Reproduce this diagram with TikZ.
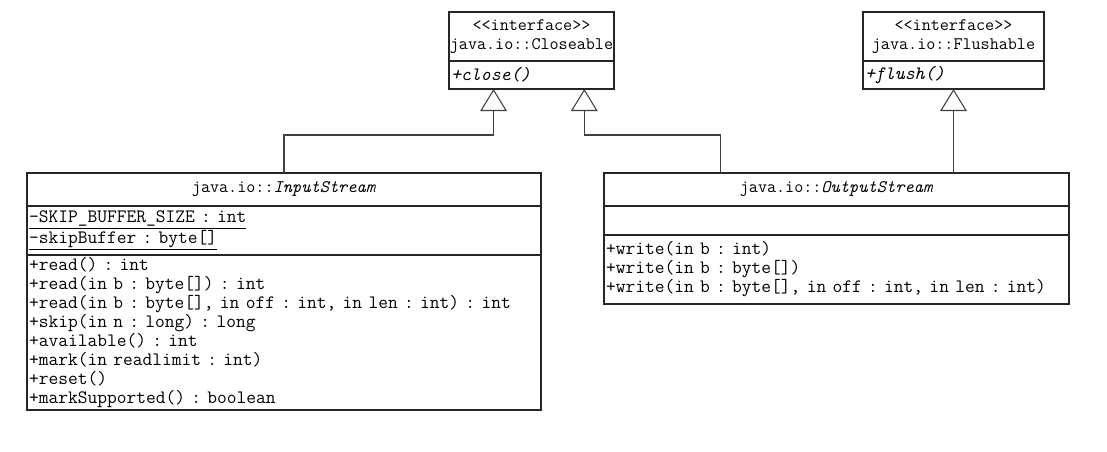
\documentclass[tikz,border=0pt]{standalone}
\usepackage{fontspec}
\usetikzlibrary{arrows.meta, positioning, calc}
\newcommand{\umlfont}{\ttfamily\fontsize{14.2pt}{14.2pt}\selectfont
    \frenchspacing\spaceskip=1.13\fontcharwd\font`x\relax}
\newcommand{\umlheadfont}{\ttfamily\fontsize{13.2pt}{14.6pt}\selectfont}
\tikzset{
    umlbox/.style={
        rectangle, draw=black!85, line width=1.1pt,
        outer sep=0pt, inner xsep=1.5pt, inner ysep=0pt,
        font=\umlfont
    },
    headbox/.style={umlbox, inner xsep=0pt, align=center, font=\umlheadfont},
    bodybox/.style={umlbox, align=left},
    realize/.style={-{Triangle[open, length=16.5pt, width=20pt]}, line width=0.8pt, draw=black!75}
}
\begin{document}
\begin{tikzpicture}[x=0.75pt, y=-0.75pt]
    \useasboundingbox (0,0) rectangle (1107,451);

    % interfaces
    \node[headbox, minimum width=123.75pt, minimum height=36.75pt, anchor=north west] (chead) at (449,12)
        {<{}<interface>{}>\\java.io::Closeable};
    \node[bodybox, text width=120.75pt, minimum height=21pt, below=0pt of chead] (cops) {\textit{+close()}};

    \node[headbox, minimum width=135.75pt, minimum height=36.75pt, anchor=north west] (fhead) at (863,12)
        {<{}<interface>{}>\\java.io::Flushable};
    \node[bodybox, text width=132.75pt, minimum height=21pt, below=0pt of fhead] (fops) {\textit{+flush()}};

    % InputStream
    \node[headbox, minimum width=385.5pt, minimum height=24.75pt, anchor=north west] (ihead) at (27,173)
        {java.io::\textit{InputStream}};
    \node[bodybox, text width=382.5pt, minimum height=36.75pt, below=0pt of ihead] (iattr)
        {\underline{-SKIP\_BUFFER\_SIZE : int}\\
         \underline{-skipBuffer : byte[]}};
    \node[bodybox, text width=382.5pt, minimum height=116.25pt, below=0pt of iattr] (iops)
        {+read() : int\\
         +read(in b : byte[]) : int\\
         +read(in b : byte[], in off : int, in len : int) : int\\
         +skip(in n : long) : long\\
         +available() : int\\
         +mark(in readlimit : int)\\
         +reset()\\
         +markSupported() : boolean};

    % OutputStream
    \node[headbox, minimum width=348.75pt, minimum height=24.75pt, anchor=north west] (ohead) at (604,173)
        {java.io::\textit{OutputStream}};
    \node[bodybox, text width=345.75pt, minimum height=21.75pt, below=0pt of ohead] (oattr) {};
    \node[bodybox, text width=345.75pt, minimum height=51.75pt, below=0pt of oattr] (oops)
        {+write(in b : int)\\
         +write(in b : byte[])\\
         +write(in b : byte[], in off : int, in len : int)};

    % generalizations
    \draw[realize] (ihead.north) -- ++(0,-38) -| ($(cops.south west)!0.27!(cops.south east)$);
    \draw[realize] ($(ohead.north west)!0.25!(ohead.north east)$) -- ++(0,-38) -| ($(cops.south west)!0.82!(cops.south east)$);
    \draw[realize] (fops.south |- ohead.north) -- (fops.south);
\end{tikzpicture}
\end{document}
